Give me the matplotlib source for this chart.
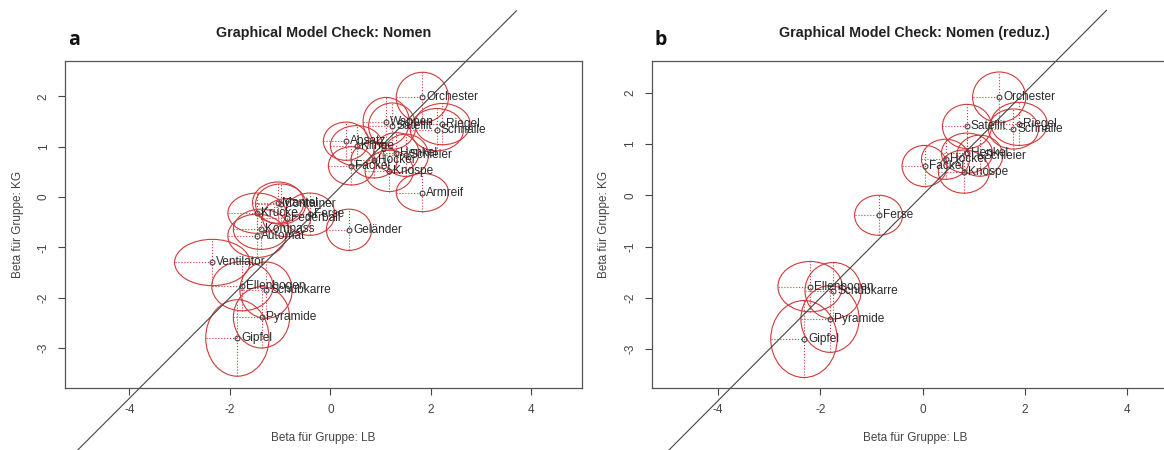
#!/usr/bin/env python3
"""Graphical model check (LB vs KG item parameters) for two item sets, side by side."""

import matplotlib
matplotlib.use("Agg")
import matplotlib.pyplot as plt
from matplotlib.patches import Ellipse

plt.rcParams["font.family"] = ["Liberation Sans", "DejaVu Sans"]
plt.rcParams["axes.unicode_minus"] = False

# panel a: all nouns
items_a = ["Orchester", "Wappen", "Satellit", "Riegel", "Schnalle", "Absatz", "Klinge",
           "Henkel", "Schleier", "Hocker", "Fackel", "Knospe", "Armreif", "Mantel",
           "Container", "Krücke", "Ferse", "Federball", "Kompass", "Automat", "Geländer",
           "Ventilator", "Ellenbogen", "Schubkarre", "Pyramide", "Gipfel"]
beta_lb_a = [1.83, 1.11, 1.23, 2.23, 2.12, 0.31, 0.52, 1.31, 1.50, 0.87, 0.42, 1.17, 1.83,
             -1.04, -0.99, -1.46, -0.41, -0.87, -1.38, -1.46, 0.37, -2.35, -1.75, -1.28,
             -1.37, -1.85]
beta_kg_a = [1.98, 1.50, 1.41, 1.45, 1.34, 1.11, 1.02, 0.88, 0.83, 0.74, 0.62, 0.52, 0.09,
             -0.11, -0.14, -0.32, -0.34, -0.41, -0.64, -0.77, -0.65, -1.30, -1.77, -1.85,
             -2.39, -2.80]
ci_lb_a = [0.52, 0.46, 0.47, 0.55, 0.53, 0.45, 0.52, 0.45, 0.45, 0.46, 0.46, 0.48, 0.52,
           0.51, 0.50, 0.58, 0.50, 0.48, 0.55, 0.58, 0.45, 0.75, 0.61, 0.52, 0.56, 0.63]
ci_kg_a = [0.50, 0.48, 0.46, 0.41, 0.42, 0.38, 0.40, 0.40, 0.42, 0.36, 0.38, 0.41, 0.38,
           0.41, 0.40, 0.40, 0.42, 0.38, 0.40, 0.43, 0.41, 0.46, 0.49, 0.56, 0.61, 0.76]

# panel b: reduced set
items_b = ["Orchester", "Satellit", "Riegel", "Schnalle", "Henkel", "Schleier", "Hocker",
           "Fackel", "Knospe", "Ferse", "Ellenbogen", "Schubkarre", "Pyramide", "Gipfel"]
beta_lb_b = [1.50, 0.87, 1.89, 1.78, 0.87, 1.12, 0.45, 0.04, 0.81, -0.86, -2.20, -1.75,
             -1.81, -2.32]
beta_kg_b = [1.91, 1.34, 1.39, 1.29, 0.82, 0.77, 0.70, 0.57, 0.46, -0.39, -1.78, -1.86,
             -2.41, -2.80]
ci_lb_b = [0.52, 0.48, 0.55, 0.49, 0.50, 0.45, 0.47, 0.44, 0.50, 0.47, 0.63, 0.55, 0.57, 0.65]
ci_kg_b = [0.49, 0.43, 0.42, 0.39, 0.39, 0.40, 0.39, 0.40, 0.42, 0.39, 0.49, 0.55, 0.65, 0.75]

RED = "#d03a3a"
W, H = 1164, 450


def gof_panel(ax, items, lb, kg, clb, ckg, title, tag, xlim, ylim, diag):
    for name, x, y, rx, ry in zip(items, lb, kg, clb, ckg):
        ax.add_patch(Ellipse((x, y), 2 * rx, 2 * ry, fill=False, ec=RED, lw=0.8))
        ax.plot([x - rx, x], [y, y], ls=":", color=RED, lw=0.8)
        ax.plot([x, x], [y - ry, y + ry], ls=":", color=RED, lw=0.8)
        ax.plot(x, y, "o", ms=3.5, mfc="none", mec="#444444", mew=0.8)
        ax.annotate(name, (x, y), xytext=(4, 0), textcoords="offset pixels",
                    va="center", ha="left", fontsize=8.6, color="#2a2a2a")
    ax.plot(diag, diag, color="#444444", lw=0.8, clip_on=False)
    ax.set_xlim(*xlim)
    ax.set_ylim(*ylim)
    ax.set_xticks([-4, -2, 0, 2, 4])
    ax.set_yticks([-3, -2, -1, 0, 1, 2])
    ax.tick_params(direction="out", length=5, width=0.8, colors="#444444",
                   labelsize=8.5, labelcolor="#444444", pad=6)
    for lab in ax.get_yticklabels():
        lab.set_rotation(90)
        lab.set_va("center")
    for sp in ax.spines.values():
        sp.set_color("#555555")
        sp.set_linewidth(0.9)
    ax.set_xlabel("Beta für Gruppe: LB", fontsize=8.5, color="#444444")
    ax.set_ylabel("Beta für Gruppe: KG", fontsize=8.5, color="#444444")
    ax.xaxis.set_label_coords(0.5, -0.133)
    ax.yaxis.set_label_coords(-0.079, 0.5)
    ax.set_title(title, fontsize=10.3, fontweight="bold", color="#222222", pad=17)
    ax.text(0.006, 1.063, tag, transform=ax.transAxes, fontsize=14, fontweight="bold",
            va="center", ha="left", color="#111111", family=["Open Sans", "DejaVu Sans"])


fig = plt.figure(figsize=(W / 100, H / 100), dpi=100)
ax_a = fig.add_axes([65 / W, (H - 388.3) / H, (581.7 - 65) / W, 327.6 / H])
ax_b = fig.add_axes([651.7 / W, (H - 388.3) / H, (1178 - 651.7) / W, 327.6 / H])

gof_panel(ax_a, items_a, beta_lb_a, beta_kg_a, ci_lb_a, ci_kg_a,
          "Graphical Model Check: Nomen", "a", (-5.28, 5.0), (-3.80, 2.71), [-5.05, 3.7])
gof_panel(ax_b, items_b, beta_lb_b, beta_kg_b, ci_lb_b, ci_kg_b,
          "Graphical Model Check: Nomen (reduz.)", "b", (-5.30, 5.0), (-3.76, 2.62),
          [-4.96, 3.6])

fig.savefig("out.png", dpi=100)
